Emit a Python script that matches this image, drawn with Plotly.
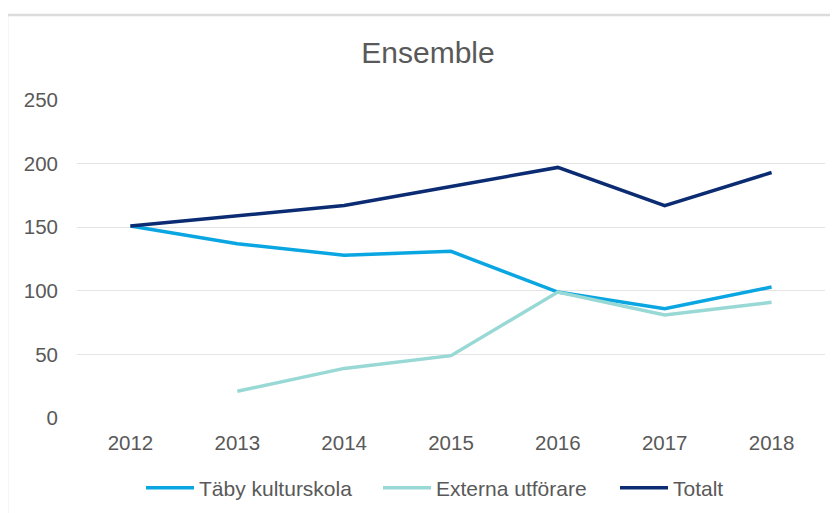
import plotly.graph_objects as go

years = ["2012", "2013", "2014", "2015", "2016", "2017", "2018"]
taby = [151, 137, 128, 131, 99, 86, 103]
externa = [None, 21, 39, 49, 99, 81, 91]
totalt = [151, 159, 167, 182, 197, 167, 193]

series = [
    ("Täby kulturskola", taby, "#0aa6e2"),
    ("Externa utförare", externa, "#98d8d5"),
    ("Totalt", totalt, "#0b2c72"),
]

fig = go.Figure()
for name, vals, col in series:
    fig.add_trace(go.Scatter(x=years, y=vals, name=name, mode="lines",
                             line=dict(color=col, width=3.5), connectgaps=False))

OFF = 8  # page body margin
W, H = 838 - OFF, 513 - OFF
L, T = 77 - OFF, 100 - OFF
pw, ph = 748, 318
R, B = W - L - pw, H - T - ph


def px_x(p):
    return (p - OFF - L) / pw


def px_y(p):
    return (T + ph - (p - OFF)) / ph


def cx(p):
    return (p - OFF) / W


def cy(p):
    return 1 - (p - OFF) / H


fig.update_layout(
    width=W, height=H,
    margin=dict(l=L, r=R, t=T, b=B, autoexpand=False),
    paper_bgcolor="white", plot_bgcolor="white",
    font=dict(family="Liberation Sans, Arial, sans-serif", size=20, color="#595959"),
    title=dict(text="Ensemble", x=cx(428), xref="container", xanchor="center",
               y=cy(52), yref="container", yanchor="middle",
               font=dict(size=30, color="#595959")),
    xaxis=dict(type="category", range=[-0.5, 6.5], showgrid=False, zeroline=False,
               showline=False, ticks="", ticklabelstandoff=10, automargin=False,
               tickfont=dict(size=20.5, color="#595959")),
    yaxis=dict(range=[0, 250], dtick=50, tick0=0, showgrid=True, gridcolor="#e4e4e4",
               gridwidth=1, zeroline=False, showline=False, ticks="", automargin=False,
               ticklabelstandoff=18, tickfont=dict(size=20.5, color="#595959")),
    legend=dict(orientation="h", x=cx(141), xref="container", xanchor="left",
                y=cy(488), yref="container", yanchor="middle",
                font=dict(size=21, color="#595959"),
                itemwidth=48, entrywidth=174, entrywidthmode="pixels",
                traceorder="normal"),
    showlegend=True,
    shapes=[dict(type="rect", xref="paper", yref="paper",
                 x0=px_x(7), x1=px_x(860), y0=px_y(540), y1=px_y(15),
                 line=dict(color="#dcdcdc", width=2.5), fillcolor="rgba(0,0,0,0)",
                 layer="below")],
)

fig.write_html("out.html")
